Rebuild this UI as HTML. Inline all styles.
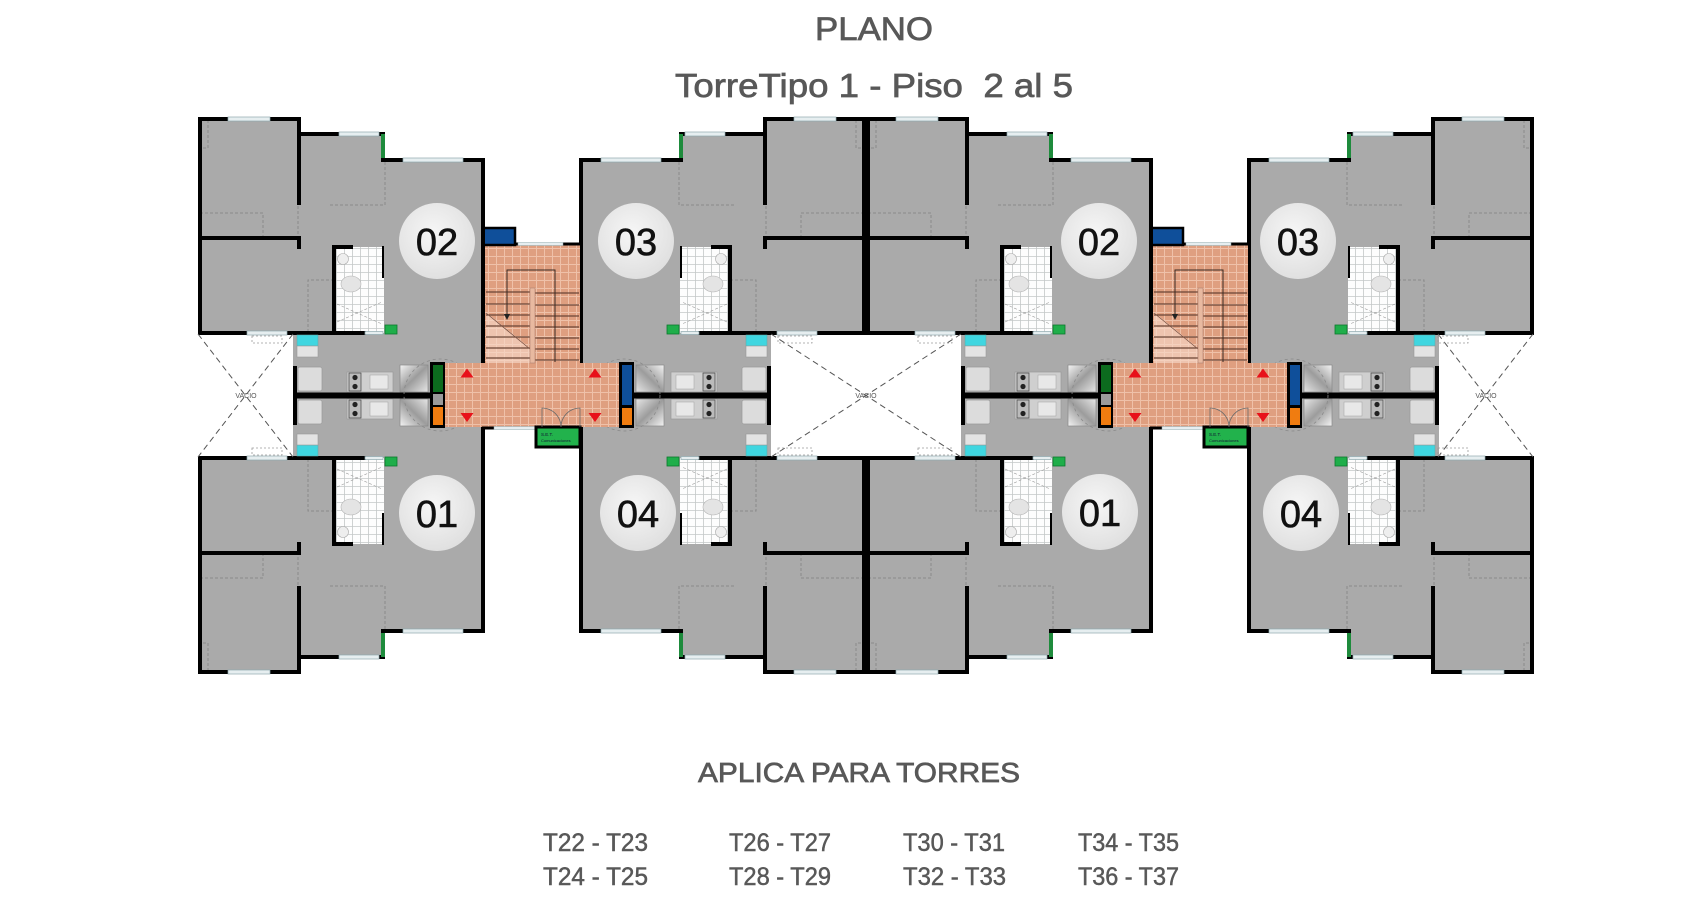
<!DOCTYPE html>
<html><head><meta charset="utf-8"><style>html,body{margin:0;padding:0;background:#fff;width:1701px;height:900px;overflow:hidden}svg{display:block}</style></head>
<body>
<svg width="1701" height="900" viewBox="0 0 1701 900" xmlns="http://www.w3.org/2000/svg" xmlns:xlink="http://www.w3.org/1999/xlink">
<defs>
<pattern id="sal" width="8" height="8" patternUnits="userSpaceOnUse"><rect width="8" height="8" fill="#df9f80"/><path d="M0,0.5H8M0.5,0V8" stroke="#efc1a9" stroke-width="1"/></pattern>
<pattern id="bt" width="8" height="8" patternUnits="userSpaceOnUse"><rect width="8" height="8" fill="#fdfdfd"/><path d="M0,0.5H8M0.5,0V8" stroke="#c4c8c8" stroke-width="0.8"/></pattern>
<linearGradient id="fr" x1="0" y1="0" x2="1" y2="1"><stop offset="0" stop-color="#f4f4f4"/><stop offset="0.5" stop-color="#9c9c9c"/><stop offset="1" stop-color="#e6e6e6"/></linearGradient>
<radialGradient id="cg" cx="0.45" cy="0.4" r="0.6"><stop offset="0" stop-color="#f6f6f6"/><stop offset="1" stop-color="#e0e0e0"/></radialGradient>

<g id="u">
<path d="M198,117H299V132H385V158H483V396H293V333H198Z" fill="#aaaaaa"/>
<g fill="none" stroke="#8a8a8a" stroke-width="1" stroke-dasharray="3 2">
<path d="M208,120V148H200"/>
<path d="M200,213H263V236"/>
<path d="M330,205H385M385,162V205"/>
<path d="M298,206V236"/>
<path d="M308,332V280H333"/>
</g>
<rect x="335" y="247" width="49" height="86" fill="url(#bt)"/>
<ellipse cx="351" cy="284" rx="10" ry="8" fill="#e4e4e4" stroke="#b5b5b5" stroke-width=".6"/>
<circle cx="343" cy="259" r="5.5" fill="#eee" stroke="#aaa" stroke-width=".6"/>
<path d="M337,322L382,302M337,304L382,324" stroke="#9a9a9a" stroke-width=".6" stroke-dasharray="3 2" fill="none"/>
<g fill="none" stroke="#000" stroke-width="4" stroke-linecap="square">
<path d="M200,333V119H299V134H383V160H483V362"/>
<path d="M299,119V203"/>
<path d="M200,238H299V247"/>
<path d="M200,333H364"/>
<path d="M334,333V247H351"/>
<path d="M295,368V396"/>
<path d="M293,395H432" stroke-width="5" stroke-linecap="butt"/>
</g>
<path d="M383,246V278" stroke="#000" stroke-width="2"/>
<g fill="#e6eef0" stroke="#8fa9ae" stroke-width=".7">
<rect x="228" y="117" width="42" height="4"/>
<rect x="339" y="132" width="40" height="4"/>
<rect x="403" y="158" width="60" height="4"/>
<rect x="247" y="331" width="40" height="4"/>
<rect x="365" y="331.5" width="18" height="3"/>
</g>
<rect x="381" y="134" width="4" height="24" fill="#1e8b3c"/>
<rect x="385" y="325" width="12" height="9" fill="#1fae4a" stroke="#0b7a2c" stroke-width=".8"/>
<rect x="297" y="335" width="21" height="11" fill="#3fd6e0" stroke="#6aa" stroke-width=".6"/>
<rect x="297" y="346" width="21" height="11" fill="#e3e3e3" stroke="#999" stroke-width=".6"/>
<rect x="298" y="367" width="24" height="24" rx="2" fill="#dcdcdc" stroke="#999" stroke-width=".7"/>
<rect x="347" y="372" width="46" height="20" fill="#cfcfcf" stroke="#999" stroke-width=".7"/>
<rect x="349" y="373" width="12" height="18" fill="#bbb" stroke="#444" stroke-width=".7"/>
<circle cx="355" cy="377.5" r="2.6" fill="#222"/><circle cx="355" cy="386.5" r="2.6" fill="#222"/>
<rect x="370" y="375" width="18" height="14" fill="#e8e8e8" stroke="#aaa" stroke-width=".6"/>
<rect x="400" y="365" width="28" height="27" fill="url(#fr)" stroke="#888" stroke-width=".7"/>
</g>

<g id="h">
<use xlink:href="#u" href="#u"/>
<use xlink:href="#u" href="#u" transform="matrix(-1 0 0 1 1064 0)"/>
<use xlink:href="#u" href="#u" transform="matrix(1 0 0 -1 0 791)"/>
<use xlink:href="#u" href="#u" transform="matrix(-1 0 0 -1 1064 791)"/>
<circle cx="440" cy="395" r="36" fill="none" stroke="#8a8a8a" stroke-dasharray="3 3" stroke-width=".8"/>
<circle cx="624" cy="395" r="36" fill="none" stroke="#8a8a8a" stroke-dasharray="3 3" stroke-width=".8"/>
<rect x="484" y="244" width="96" height="120" fill="url(#sal)"/>
<polygon points="486,312 530,348 530,363 486,363" fill="#f6d8c8" opacity=".65"/>
<rect x="445" y="363" width="174" height="64" fill="url(#sal)"/>
<g stroke="#6b4535" stroke-width="1.2">
<path d="M486,292H530M486,304H530M486,315H530M486,326H530M486,337H530M486,348H530M486,358H530"/>
<path d="M535,293H579M535,305H579M535,316H579M535,327H579M535,338H579M535,349H579M535,360H579"/>
</g>
<path d="M486,313L530,349" stroke="#7a5040" stroke-width=".8"/>
<rect x="530" y="288" width="5" height="75" fill="#e8b9a0" stroke="#b08070" stroke-width=".6"/>
<path d="M555,362V270H507V316" fill="none" stroke="#3a2a22" stroke-width="1"/>
<path d="M504,314L510,314L507,320Z" fill="#222"/>
<rect x="483" y="228" width="32" height="17" fill="#0f4f9a" stroke="#000" stroke-width="2.5"/>
<path d="M515,244H582" stroke="#000" stroke-width="3"/>
<rect x="518" y="242.5" width="45" height="3" fill="#e6eef0" stroke="#8fa9ae" stroke-width=".5"/>
<path d="M483,228V363" stroke="#000" stroke-width="4"/>
<path d="M482,428H494" stroke="#000" stroke-width="3"/>
<rect x="494" y="426.5" width="42" height="3" fill="#e6eef0" stroke="#8fa9ae" stroke-width=".5"/>
<rect x="536" y="427" width="44" height="20" fill="#22b24c" stroke="#000" stroke-width="3"/>
<text x="541" y="436" font-family="Liberation Sans, Arial, sans-serif" font-size="4.5" fill="#113">S.E.T.</text>
<text x="541" y="442" font-family="Liberation Sans, Arial, sans-serif" font-size="4" fill="#113">Comunicaciones</text>
<path d="M542,427V408A19,19 0 0 1 561,427M580,427V408A19,19 0 0 0 561,427" stroke="#6a6a6a" fill="none" stroke-width=".8"/>
<rect x="430" y="362" width="15" height="66" fill="#000"/>
<rect x="433" y="365" width="10" height="27" fill="#0c6b1e"/>
<rect x="433" y="394" width="10" height="11" fill="#9a9a9a"/>
<rect x="433" y="407" width="10" height="18" fill="#f07c10"/>
<rect x="619" y="362" width="15" height="66" fill="#000"/>
<rect x="622" y="365" width="10" height="40" fill="#0f4f9a"/>
<rect x="622" y="408" width="10" height="17" fill="#f07c10"/>
<g fill="#e8111a">
<path d="M460.5,377.5H473.5L467,368.5Z"/><path d="M588.5,377.5H601.5L595,368.5Z"/>
<path d="M460.5,413H473.5L467,422Z"/><path d="M588.5,413H601.5L595,422Z"/>
</g>
</g>
</defs>

<use xlink:href="#h" href="#h"/>
<use xlink:href="#h" href="#h" transform="translate(668,0)"/>

<g fill="none" stroke="#555" stroke-width="1" stroke-dasharray="6 4">
<path d="M198,334L293,457M293,334L198,457"/>
<path d="M771,334L961,457M961,334L771,457"/>
<path d="M1438,334L1533,457M1533,334L1438,457"/>
</g>
<g fill="none" stroke="#9a9a9a" stroke-width=".8" stroke-dasharray="2 2">
<rect x="252" y="336" width="30" height="7"/><rect x="252" y="448" width="30" height="7"/>
<rect x="778" y="336" width="34" height="7"/><rect x="778" y="448" width="34" height="7"/>
<rect x="918" y="336" width="34" height="7"/><rect x="918" y="448" width="34" height="7"/>
<rect x="1438" y="336" width="30" height="7"/><rect x="1438" y="448" width="30" height="7"/>
</g>
<g font-family="Liberation Sans, Arial, sans-serif" font-size="7" fill="#555" text-anchor="middle">
<text x="246" y="398">VACIO</text>
<text x="866" y="398">VACIO</text>
<text x="1486" y="398">VACIO</text>
</g>

<g fill="url(#cg)">
<circle cx="437" cy="241" r="38"/><circle cx="636" cy="241" r="38"/>
<circle cx="1099" cy="241" r="38"/><circle cx="1298" cy="241" r="38"/>
<circle cx="437" cy="513" r="38"/><circle cx="638" cy="513" r="38"/>
<circle cx="1100" cy="512" r="38"/><circle cx="1301" cy="513" r="38"/>
</g>
<g font-family="Liberation Sans, Arial, sans-serif" font-size="38" fill="#111" stroke="#111" stroke-width="0.6" text-anchor="middle">
<text x="437" y="255">02</text><text x="636" y="255">03</text>
<text x="1099" y="255">02</text><text x="1298" y="255">03</text>
<text x="437" y="527">01</text><text x="638" y="527">04</text>
<text x="1100" y="526">01</text><text x="1301" y="527">04</text>
</g>

<g font-family="Liberation Sans, Arial, sans-serif" fill="#585858" stroke="#585858" stroke-width="0.7">
<text x="815" y="40" font-size="32" textLength="118" lengthAdjust="spacingAndGlyphs">PLANO</text>
<text x="675" y="97" font-size="33" textLength="398" lengthAdjust="spacingAndGlyphs" style="white-space:pre">TorreTipo 1 - Piso  2 al 5</text>
<text x="698" y="782" font-size="28" textLength="322" lengthAdjust="spacingAndGlyphs">APLICA PARA TORRES</text>
<g font-size="25" stroke-width="0.5">
<text x="543" y="851" textLength="105" lengthAdjust="spacingAndGlyphs">T22 - T23</text>
<text x="543" y="885" textLength="105" lengthAdjust="spacingAndGlyphs">T24 - T25</text>
<text x="729" y="851" textLength="102" lengthAdjust="spacingAndGlyphs">T26 - T27</text>
<text x="729" y="885" textLength="102" lengthAdjust="spacingAndGlyphs">T28 - T29</text>
<text x="903" y="851" textLength="102" lengthAdjust="spacingAndGlyphs">T30 - T31</text>
<text x="903" y="885" textLength="103" lengthAdjust="spacingAndGlyphs">T32 - T33</text>
<text x="1078" y="851" textLength="101" lengthAdjust="spacingAndGlyphs">T34 - T35</text>
<text x="1078" y="885" textLength="101" lengthAdjust="spacingAndGlyphs">T36 - T37</text>
</g>
</g>
</svg>
</body></html>
